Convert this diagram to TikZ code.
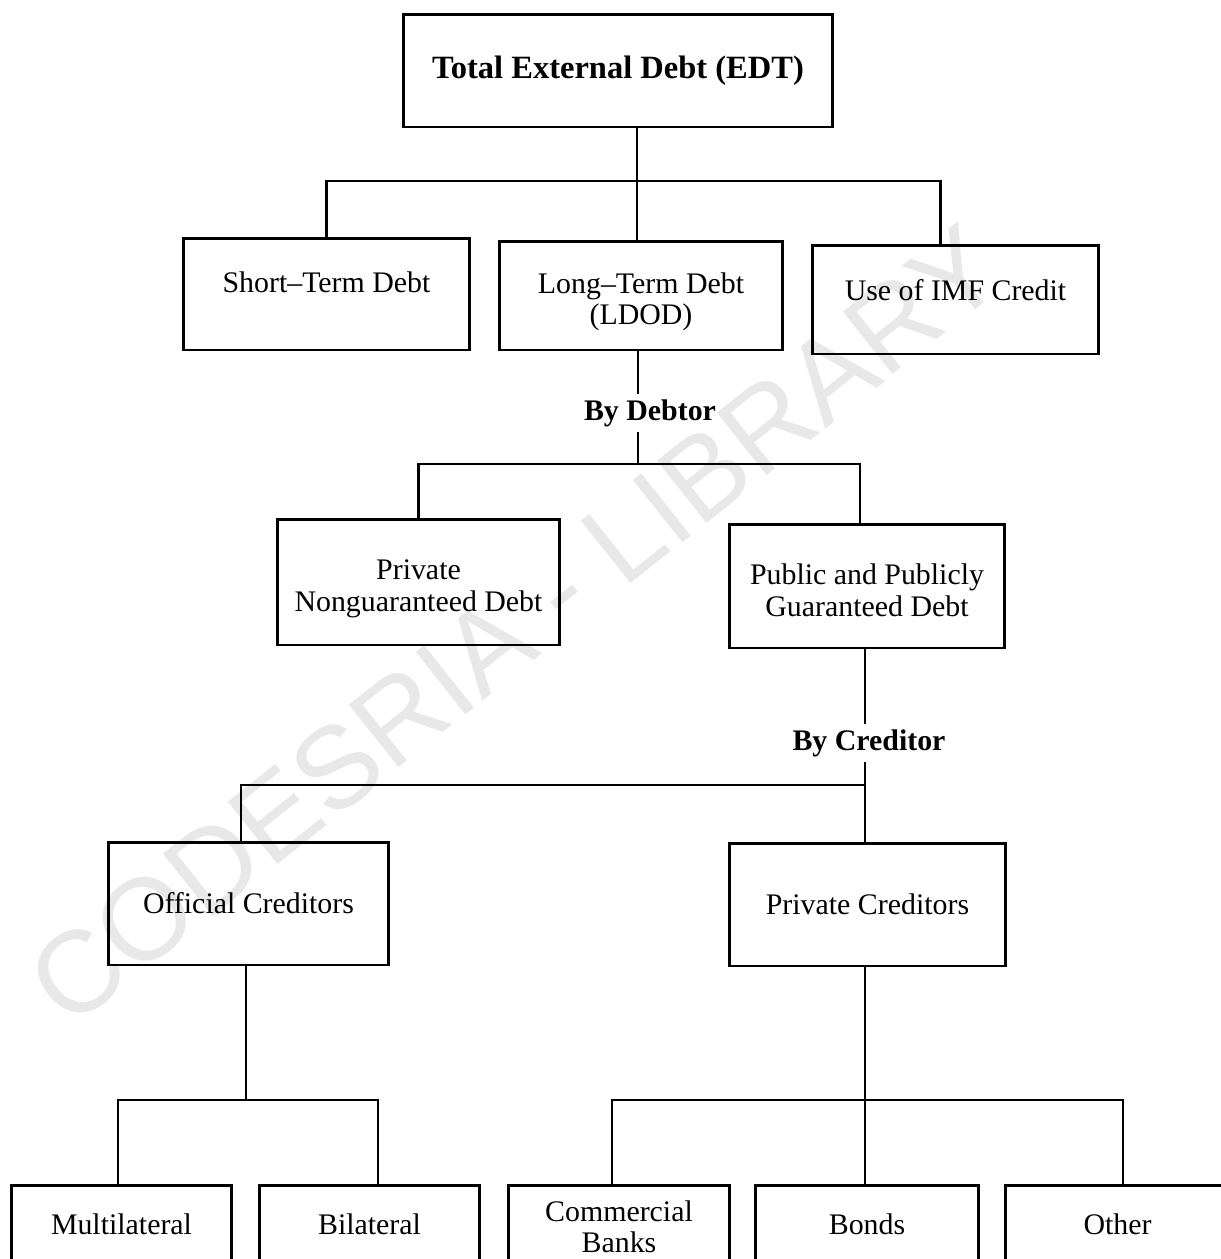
\documentclass[tikz,border=0pt]{standalone}
\usepackage{fontspec}
\setmainfont{Liberation Serif}
\newfontfamily\wmfont{Liberation Sans}
\usepackage{tikz}
\usetikzlibrary{positioning}

% strut that lowers the first line of a box
\newcommand{\lowerby}[1]{\rule{0pt}{#1}}

\begin{document}
\begin{tikzpicture}[
  x=0.02cm, y=-0.02cm,
  box/.style={rectangle, draw, line width=1.7pt, inner sep=0pt, align=center,
              font=\fontsize{17}{18}\selectfont},
  bottombox/.style={box, minimum height=1.56cm},
  tag/.style={font=\bfseries\fontsize{17}{19}\selectfont, inner sep=3pt},
  link/.style={line width=1.4pt},
]

\useasboundingbox (0,0) rectangle (1221,1259);
\clip (0,0) rectangle (1221,1259);

% Watermark
\node[font=\wmfont\fontsize{66}{70}\selectfont, text=gray!18, rotate=38.5] (wm) at (515,625) {CODESRIA - LIBRARY};

% Top
\node[box, minimum width=8.6cm, minimum height=2.26cm, font=\bfseries\fontsize{18.5}{22}\selectfont] (edt) at (618,70.5) {Total External Debt (EDT)};

% Second row
\node[box, minimum width=5.74cm, minimum height=2.24cm, text depth=13.8pt] (std) at (326.5,294) {Short--Term Debt};
\node[box, minimum width=5.68cm, minimum height=2.18cm] (ltd) at (641,295.5) {\lowerby{19pt}Long--Term Debt\\(LDOD)};
\node[box, minimum width=5.74cm, minimum height=2.18cm, text depth=10.4pt] (imf) at (955.5,299.5) {Use of IMF Credit};

% By debtor
\node[tag] (dbt) at (650,413) {By Debtor};
\node[box, minimum width=5.66cm, minimum height=2.52cm] (png) at (418.5,582) {\lowerby{19pt}Private\\Nonguaranteed Debt};
\node[box, minimum width=5.52cm, minimum height=2.48cm] (ppg) at (867,586) {\lowerby{17pt}Public and Publicly\\Guaranteed Debt};

% By creditor
\node[tag] (crd) at (869,743) {By Creditor};
\node[box, minimum width=5.62cm, minimum height=2.46cm] (ofc) at (248.5,903.5) {Official Creditors};
\node[box, minimum width=5.54cm, minimum height=2.46cm] (prc) at (867.5,904.5) {Private Creditors};

% Bottom row
\node[bottombox, minimum width=4.42cm] (mul) at (121.5,1224) {Multilateral};
\node[bottombox, minimum width=4.42cm] (bil) at (369.5,1224) {Bilateral};
\node[bottombox, minimum width=4.44cm] (com) at (619,1224) {\lowerby{15pt}Commercial\\Banks};
\node[bottombox, minimum width=4.48cm] (bon) at (867,1224) {Bonds};
\node[bottombox, minimum width=4.5cm] (oth) at (1117.5,1224) {Other};

% EDT to its parts
\coordinate (j1) at (637,181);
\draw[link] (edt.south -| j1) -- (j1) -- (ltd.north -| j1);
\draw[link] (std.north) |- (j1) -| ([xshift=-0.3cm]imf.north);

% LDOD by debtor
\coordinate (j2) at (638,464);
\draw[link] (ltd.south -| j2) -- (dbt.north -| j2);
\draw[link] (dbt.south -| j2) -- (j2);
\draw[link] (png.north) |- (j2) -| ([xshift=-0.14cm]ppg.north);

% PPG by creditor
\coordinate (j3) at (865,785);
\draw[link] (ppg.south -| j3) -- (crd.north -| j3);
\draw[link] (crd.south -| j3) -- (j3) -- (prc.north -| j3);
\draw[link] ([xshift=-0.15cm]ofc.north) |- (j3);

% Official creditors
\coordinate (j4) at (246,1100);
\draw[link] (ofc.south -| j4) -- (j4);
\draw[link] ([xshift=-0.07cm]mul.north) |- (j4) -| ([xshift=0.17cm]bil.north);

% Private creditors
\coordinate (j5) at (865,1100);
\draw[link] (prc.south -| j5) -- (bon.north -| j5);
\draw[link] ([xshift=-0.14cm]com.north) |- (j5) -| ([xshift=0.11cm]oth.north);

\end{tikzpicture}
\end{document}
